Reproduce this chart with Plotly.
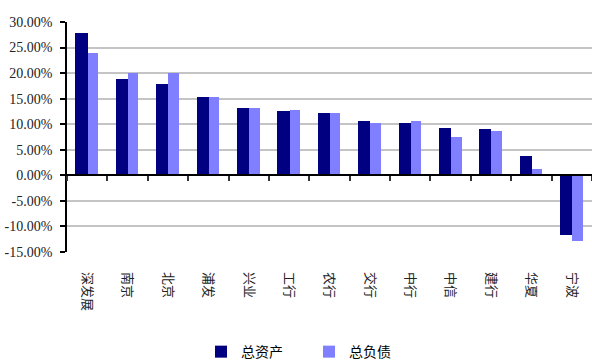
import plotly.graph_objects as go

categories = ["深发展", "南京", "北京", "浦发", "兴业", "工行", "农行", "交行", "中行", "中信", "建行", "华夏", "宁波"]
total_assets = [27.9, 18.9, 17.85, 15.3, 13.2, 12.6, 12.2, 10.66, 10.26, 9.3, 9.1, 3.8, -11.7]
total_liabilities = [23.95, 19.95, 19.95, 15.3, 13.2, 12.85, 12.2, 10.26, 10.66, 7.5, 8.7, 1.2, -12.8]
series_names = ["总资产", "总负债"]
y_ticks = [-15, -10, -5, 0, 5, 10, 15, 20, 25, 30]

cjk = "Noto Sans CJK SC"
num_font = "Liberation Sans Narrow"

fig = go.Figure()
fig.add_trace(go.Bar(
    x=categories, y=total_assets, name=series_names[0],
    marker=dict(color="#000080", line=dict(width=0)),
    offset=-0.29, width=0.30, xaxis="x", yaxis="y",
))
fig.add_trace(go.Bar(
    x=categories, y=total_liabilities, name=series_names[1],
    marker=dict(color="#7f7fff", line=dict(width=0)),
    offset=0.01, width=0.26, xaxis="x2", yaxis="y",
))

fig.update_layout(
    width=592, height=360,
    margin=dict(l=67, r=0, t=22, b=108, autoexpand=False),
    paper_bgcolor="white", plot_bgcolor="white",
    barmode="overlay",
    showlegend=True,
    legend=dict(
        orientation="h", x=(201 - 67) / 525, xanchor="left", y=-0.435, yanchor="middle",
        font=dict(family=cjk, size=14, color="#000"),
        entrywidth=63, entrywidthmode="pixels",
        traceorder="normal",
    ),
    xaxis=dict(
        type="category", categoryorder="array", categoryarray=categories,
        range=[-0.5, len(categories) - 0.5],
        showline=False, showgrid=False, ticks="", zeroline=False,
        tickangle=90, tickfont=dict(family=cjk, size=13, color="#222"),
        ticklabelstandoff=19, automargin=False,
    ),
    xaxis2=dict(
        type="category", categoryorder="array", categoryarray=categories,
        overlaying="x", anchor="free", position=1/3, side="bottom",
        range=[-0.5, len(categories) - 0.5],
        showline=True, linecolor="#000", linewidth=2,
        ticks="outside", tickson="boundaries", ticklen=5, tickwidth=1.5, tickcolor="#333",
        showticklabels=False, showgrid=False, zeroline=False, automargin=False,
    ),
    yaxis=dict(
        range=[-15, 30], tickvals=y_ticks, ticktext=[f"{v:.2f}%" for v in y_ticks],
        showline=True, linecolor="#000", linewidth=1.5,
        ticks="outside", ticklen=5, tickwidth=1.5, tickcolor="#000",
        showgrid=True, gridcolor="#c4c4c4", gridwidth=1.5,
        zeroline=False, automargin=False, ticklabelstandoff=5,
        tickfont=dict(family=num_font, size=14, color="#222"),
    ),
    bargap=0,
)

fig.write_html("out.html")
